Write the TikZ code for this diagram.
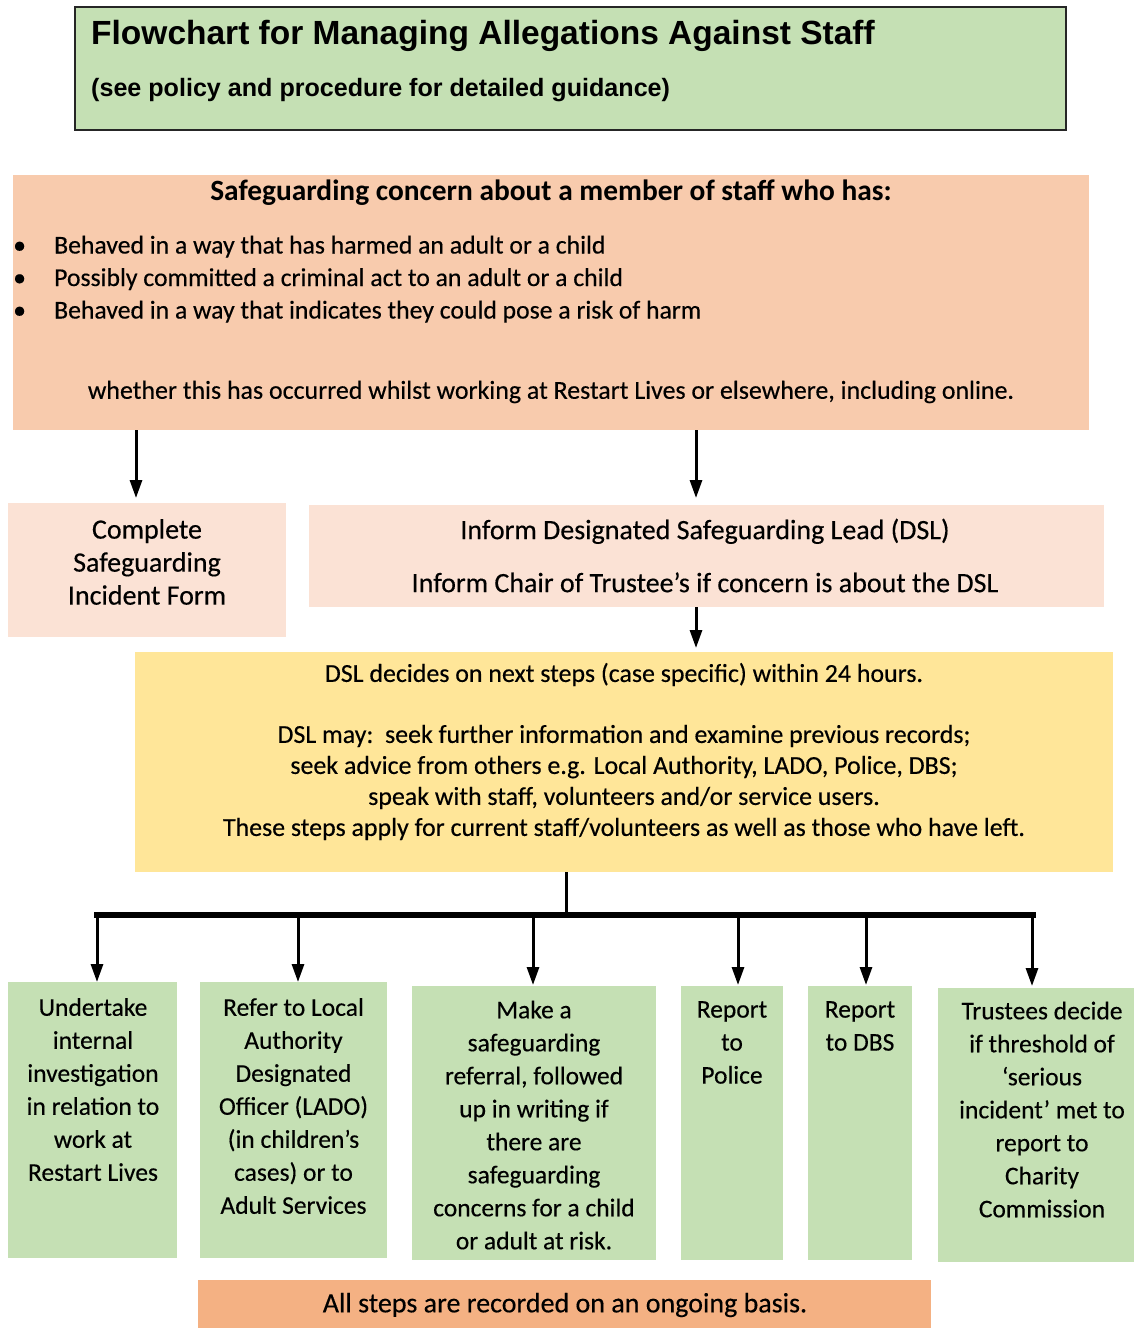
\documentclass[tikz,border=0pt]{standalone}
\usepackage{fontspec}
\setmainfont{Carlito}[UprightFeatures={FakeBold=0.35}]
\newfontfamily\titlefont{Liberation Sans}
\usetikzlibrary{arrows.meta}
\definecolor{grn}{HTML}{C5E0B4}
\definecolor{peach}{HTML}{F8CBAD}
\definecolor{lpeach}{HTML}{FBE2D5}
\definecolor{yel}{HTML}{FFE699}
\definecolor{org}{HTML}{F4B183}
\begin{document}
\begin{tikzpicture}[x=1pt,y=-1pt,
  box/.style={draw=none, inner sep=0, outer sep=0, anchor=north west},
  txt/.style={font=\fontsize{25.5}{33}\selectfont, align=center, inner sep=0},
  big/.style={font=\fontsize{28}{33}\selectfont},
  arr/.style={line width=3pt, -{Triangle[length=18pt,width=12pt]}},
  ln/.style={line width=3pt},
]
\useasboundingbox (0,0) rectangle (1133,1328);

% boxes
\node[box, fill=grn, draw=black!85, line width=1.5pt, minimum width=991pt, minimum height=123pt] (title) at (75,7) {};
\node[box, fill=peach, minimum width=1076pt, minimum height=255pt] (top) at (13,175) {};
\node[box, fill=lpeach, minimum width=278pt, minimum height=134pt] (form) at (8,503) {};
\node[box, fill=lpeach, minimum width=795pt, minimum height=102pt] (inform) at (309,505) {};
\node[box, fill=yel, minimum width=978pt, minimum height=220pt] (dsl) at (135,652) {};
\node[box, fill=grn, minimum width=169pt, minimum height=276pt] (b1) at (8,982) {};
\node[box, fill=grn, minimum width=187pt, minimum height=276pt] (b2) at (200,982) {};
\node[box, fill=grn, minimum width=244pt, minimum height=274pt] (b3) at (412,986) {};
\node[box, fill=grn, minimum width=102pt, minimum height=274pt] (b4) at (681,986) {};
\node[box, fill=grn, minimum width=104pt, minimum height=274pt] (b5) at (808,986) {};
\node[box, fill=grn, minimum width=200pt, minimum height=274pt] (b6) at (938,988) {};
\node[box, fill=org, minimum width=733pt, minimum height=48pt] (rec) at (198,1280) {};

% texts
\node[anchor=west, inner sep=0, font=\titlefont\bfseries\fontsize{33.5}{40}\selectfont] (t1) at (91,36) {Flowchart for Managing Allegations Against Staff};
\node[anchor=west, inner sep=0, font=\titlefont\bfseries\fontsize{25.1}{30}\selectfont] (t2) at (91,90) {(see policy and procedure for detailed guidance)};

\node[txt, font=\bfseries\fontsize{29.4}{33}\selectfont] (th) at (551,193) {Safeguarding concern about a member of staff who has:};
\node[anchor=west, inner sep=0, font=\fontsize{25.7}{32.5}\selectfont] (tb) at (13,279.5) {\begin{tabular}{@{}p{41pt}@{}l@{}}
\textbullet & Behaved in a way that has harmed an adult or a child\\
\textbullet & Possibly committed a criminal act to an adult or a child\\
\textbullet & Behaved in a way that indicates they could pose a risk of harm
\end{tabular}};
\node[txt, font=\fontsize{25.9}{33}\selectfont] (tw) at (551,392) {whether this has occurred whilst working at Restart Lives or elsewhere, including online.};

\node[txt, big] (tf) at (147,562) {Complete\\Safeguarding\\Incident Form};
\node[txt, big] (ti) at (705,555.5) {Inform Designated Safeguarding Lead (DSL)\\[20pt]Inform Chair of Trustee’s if concern is about the DSL};
\node[txt, font=\fontsize{25.9}{31}\selectfont] (td) at (624,751.5) {DSL decides on next steps (case specific) within 24 hours.\\[30pt]
DSL may:\ \ seek further information and examine previous records;\\
seek advice from others e.g. Local Authority, LADO, Police, DBS;\\
speak with staff, volunteers and/or service users.\\
These steps apply for current staff/volunteers as well as those who have left.};

\node[txt] (x1) at (93,1089.5) {Undertake\\internal\\investigation\\in relation to\\work at\\Restart Lives};
\node[txt] (x2) at (293.5,1106) {Refer to Local\\Authority\\Designated\\Officer (LADO)\\(in children’s\\cases) or to\\Adult Services};
\node[txt] (x3) at (534,1125) {Make a\\safeguarding\\referral, followed\\up in writing if\\there are\\safeguarding\\concerns for a child\\or adult at risk.};
\node[txt] (x4) at (732,1042.5) {Report\\to\\Police};
\node[txt] (x5) at (860,1026) {Report\\to DBS};
\node[txt] (x6) at (1042,1109.5) {Trustees decide\\if threshold of\\‘serious\\incident’ met to\\report to\\Charity\\Commission};
\node[txt, big] (xr) at (565,1305) {All steps are recorded on an ongoing basis.};

% connectors
\coordinate (a1) at (136,498);
\coordinate (a2) at (696,498);
\coordinate (a3) at (696,648);
\draw[arr] (top.south -| a1) -- (a1);
\draw[arr] (top.south -| a2) -- (a2);
\draw[arr] (inform.south -| a3) -- (a3);

\coordinate (bar) at (566,915);
\coordinate (barL) at (94,915);
\coordinate (barR) at (1036,915);
\draw[ln] (dsl.south -| bar) -- (bar);
\draw[line width=5.5pt] (barL) -- (barR);

\coordinate (d1) at (97,982);
\coordinate (d2) at (298,982);
\coordinate (d3) at (533,985);
\coordinate (d4) at (738,985);
\coordinate (d5) at (866,985);
\coordinate (d6) at (1032,986);
\foreach \d in {d1,d2,d3,d4,d5,d6}{
  \draw[arr] (bar -| \d) -- (\d);
}
\end{tikzpicture}
\end{document}
